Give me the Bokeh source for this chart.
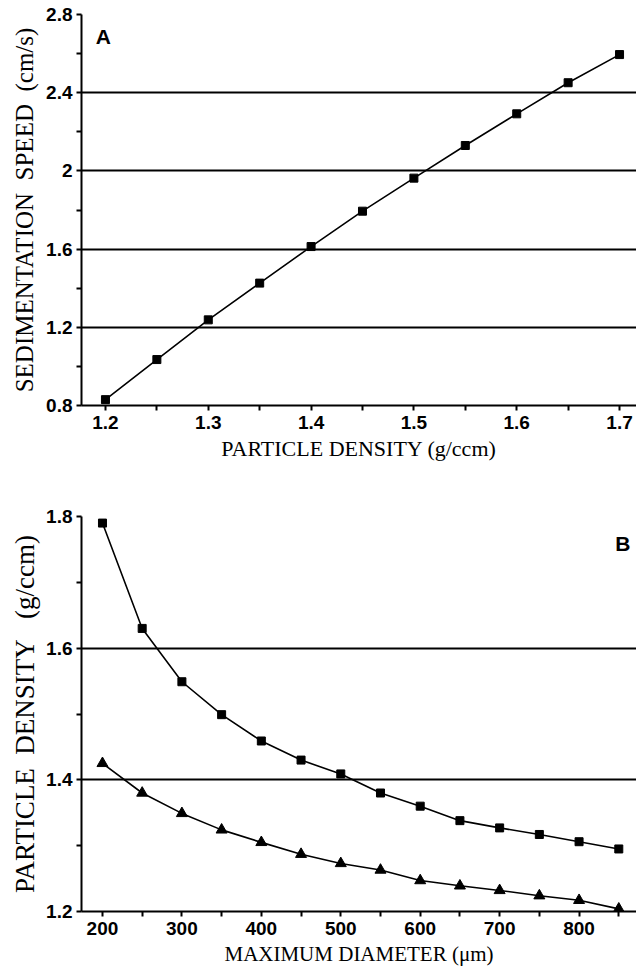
from bokeh.plotting import figure
from bokeh.layouts import column
from bokeh.models import Label, FixedTicker
from bokeh.embed import file_html
from bokeh.resources import INLINE

# Panel A data
density = [1.2, 1.25, 1.3, 1.35, 1.4, 1.45, 1.5, 1.55, 1.6, 1.65, 1.7]
speed = [0.83, 1.035, 1.238, 1.426, 1.613, 1.794, 1.963, 2.13, 2.292, 2.451, 2.595]
a_yticks = [0.8, 1.2, 1.6, 2.0, 2.4, 2.8]
a_xticks = [1.2, 1.3, 1.4, 1.5, 1.6, 1.7]

# Panel B data
diameter = [200, 250, 300, 350, 400, 450, 500, 550, 600, 650, 700, 750, 800, 850]
dens_square = [1.79, 1.63, 1.549, 1.499, 1.459, 1.43, 1.409, 1.38, 1.36, 1.338, 1.327, 1.317, 1.306, 1.295]
dens_triangle = [1.425, 1.38, 1.349, 1.324, 1.305, 1.287, 1.273, 1.263, 1.247, 1.239, 1.232, 1.224, 1.217, 1.204]
b_yticks = [1.2, 1.4, 1.6, 1.8]
b_xticks = [200, 300, 400, 500, 600, 700, 800]

NB = "\u00a0"
TICK_FONT = "Liberation Sans"
TITLE_FONT = "Liberation Serif"


def style(p, yticks, xticks, ystand, xstand, ytitle_size, xtitle_size):
    p.outline_line_color = None
    p.background_fill_color = "white"
    p.border_fill_color = "white"
    p.xgrid.grid_line_color = None
    p.ygrid.grid_line_color = "black"
    p.ygrid.grid_line_width = 2
    p.yaxis.ticker = FixedTicker(ticks=yticks,
                                 minor_ticks=[(yticks[i] + yticks[i + 1]) / 2 for i in range(len(yticks) - 1)])
    step = xticks[1] - xticks[0]
    minors = [x + step / 2 for x in xticks]
    p.xaxis.ticker = FixedTicker(ticks=xticks, minor_ticks=minors)
    for ax in (p.xaxis, p.yaxis):
        ax.axis_line_color = "black"
        ax.axis_line_width = 2
        ax.major_tick_line_color = "black"
        ax.major_tick_line_width = 2
        ax.minor_tick_line_color = "black"
        ax.minor_tick_line_width = 2
        ax.major_tick_out = 5
        ax.major_tick_in = 0
        ax.minor_tick_out = 5
        ax.minor_tick_in = 0
        ax.major_label_text_font = TICK_FONT
        ax.major_label_text_font_style = "bold"
        ax.major_label_text_font_size = "19px"
        ax.major_label_text_color = "black"
        ax.axis_label_text_font = TITLE_FONT
        ax.axis_label_text_font_style = "normal"
        ax.axis_label_text_color = "black"
    p.yaxis.major_label_standoff = 4
    p.xaxis.major_label_standoff = 5
    p.yaxis.axis_label_standoff = ystand
    p.xaxis.axis_label_standoff = xstand
    p.yaxis.axis_label_text_font_size = ytitle_size
    p.xaxis.axis_label_text_font_size = xtitle_size


# ---------- Panel A ----------
pA = figure(width=636, height=490, output_backend="svg", toolbar_location=None,
            x_range=(1.1767, 1.7165), y_range=(0.8, 2.8),
            min_border_left=81, min_border_right=0, min_border_top=14, min_border_bottom=85)
pA.line(density, speed, line_color="black", line_width=1.6)
pA.scatter(density, speed, marker="square", size=8, color="black")
pA.xaxis.axis_label = "PARTICLE DENSITY (g/ccm)"
pA.yaxis.axis_label = f"SEDIMENTATION{NB}{NB}SPEED{NB}{NB}(cm/s)"
style(pA, a_yticks, a_xticks, 5, 4, "25px", "22px")
pA.add_layout(Label(x=1.198, y=2.687, text="A", text_font=TICK_FONT, text_font_style="bold",
                    text_font_size="21px", text_align="center", text_baseline="middle",
                    text_color="black"))

# ---------- Panel B ----------
pB = figure(width=636, height=484, output_backend="svg", toolbar_location=None,
            x_range=(173.6, 872.3), y_range=(1.2, 1.8),
            min_border_left=73, min_border_right=0, min_border_top=26, min_border_bottom=63)
pB.line(diameter, dens_square, line_color="black", line_width=1.6)
pB.scatter(diameter, dens_square, marker="square", size=8, color="black")
pB.line(diameter, dens_triangle, line_color="black", line_width=1.6)
pB.scatter(diameter, dens_triangle, marker="triangle", size=11, color="black")
pB.xaxis.axis_label = "MAXIMUM DIAMETER (\u03bcm)"
pB.yaxis.axis_label = f"PARTICLE{NB}{NB}DENSITY{NB}{NB}{NB}(g/ccm)"
style(pB, b_yticks, b_xticks, 3, 4, "27px", "21px")
pB.add_layout(Label(x=855, y=1.759, text="B", text_font=TICK_FONT, text_font_style="bold",
                    text_font_size="21px", text_align="center", text_baseline="middle",
                    text_color="black"))

layout = column(pA, pB, spacing=0)
open("out.html", "w").write(file_html(layout, INLINE))
